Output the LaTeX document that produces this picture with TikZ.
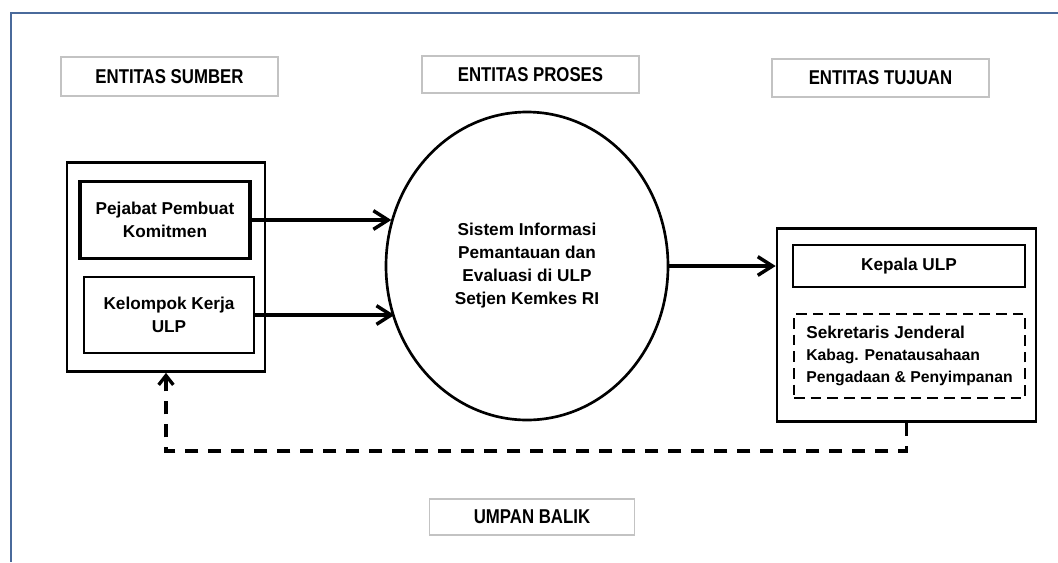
\documentclass[tikz,border=0pt]{standalone}
\usepackage{fontspec}
\setmainfont{Liberation Sans}
\newfontfamily\hdrfont{Liberation Sans Bold}[FakeStretch=0.84]
\usetikzlibrary{arrows.meta,shapes.geometric}
\definecolor{frameblue}{RGB}{74,106,155}
\definecolor{hdrgray}{RGB}{195,195,195}
\tikzset{
  hdr/.style={draw=hdrgray, line width=0.8pt, fill=white, minimum width=217*0.75pt,
    minimum height=38*0.75pt, inner sep=0pt, font=\hdrfont\fontsize{15pt}{17pt}\selectfont},
  body/.style={font=\bfseries\fontsize{12.9pt}{17.25pt}\selectfont, align=center, inner sep=0pt},
  outerbox/.style={draw, line width=2pt, inner sep=0pt},
  innerbox/.style={body, draw, line width=2pt},
  flow/.style={line width=2.6pt, -{Straight Barb[length=11pt,width=14pt]}},
  feedback/.style={line width=2.5pt, dash pattern=on 9.75pt off 7.5pt,
    -{Straight Barb[length=7pt,width=11pt]}},
}
\begin{document}
\begin{tikzpicture}[x=0.75pt,y=-0.75pt]
\useasboundingbox (0,0) rectangle (1058,562);
\fill[white] (0,0) rectangle (1058,562);
% page frame
\draw[frameblue, line width=2pt] (1058,13) -- (11,13) -- (11,562);

% headers
\node[hdr, minimum height=39*0.75pt] (hsrc) at (169.5,76.5) {ENTITAS SUMBER};
\node[hdr, minimum height=37*0.75pt] (hproc) at (530.5,74.5) {ENTITAS PROSES};
\node[hdr] (hdst) at (880.5,78) {ENTITAS TUJUAN};
\node[hdr, minimum width=205*0.75pt, minimum height=36*0.75pt] (hfb) at (532,517) {UMPAN BALIK};

% source entity
\node[outerbox, minimum width=198*0.75pt, minimum height=209*0.75pt] (src) at (166,267) {};
\node[innerbox, line width=2.5pt, minimum width=170*0.75pt, minimum height=76.6*0.75pt] (ppk) at (165,220) {Pejabat Pembuat\\Komitmen};
\node[innerbox, minimum width=170*0.75pt, minimum height=76*0.75pt] (pokja) at (169,315) {Kelompok Kerja\\ULP};

% process
\node[body, ellipse, draw, line width=2pt, minimum width=282*0.75pt, minimum height=308*0.75pt] (proc) at (527,266)
  {Sistem Informasi\\Pemantauan dan\\Evaluasi di ULP\\Setjen Kemkes RI};

% destination entity
\node[outerbox, minimum width=259*0.75pt, minimum height=193.5*0.75pt] (dst) at (906.5,325) {};
\node[innerbox, line width=1.8pt, minimum width=232*0.75pt, minimum height=42*0.75pt] (kepala) at (909,266) {Kepala ULP};
\node[body, draw, line width=2.2pt, dash pattern=on 8pt off 4.5pt, align=left,
  minimum width=231*0.75pt, minimum height=84*0.75pt] (sekjen) at (909.5,356)
  {Sekretaris Jenderal\\[-1pt]{\fontsize{11.8pt}{15.5pt}\selectfont Kabag. Penatausahaan}\\[-1pt]{\fontsize{11.8pt}{15.5pt}\selectfont Pengadaan \& Penyimpanan}};

% flows
\draw[flow] (ppk.east) -- (ppk.east -| proc.161.1);
\draw[flow] (pokja.east) -- (pokja.east -| proc.203.1);
\draw[flow] (proc.east) -- (proc.east -| dst.west);

% feedback
\coordinate (fbr) at (906.5,451);
\draw[feedback] (dst.south) -- (fbr) -| (src.south);
\end{tikzpicture}
\end{document}
